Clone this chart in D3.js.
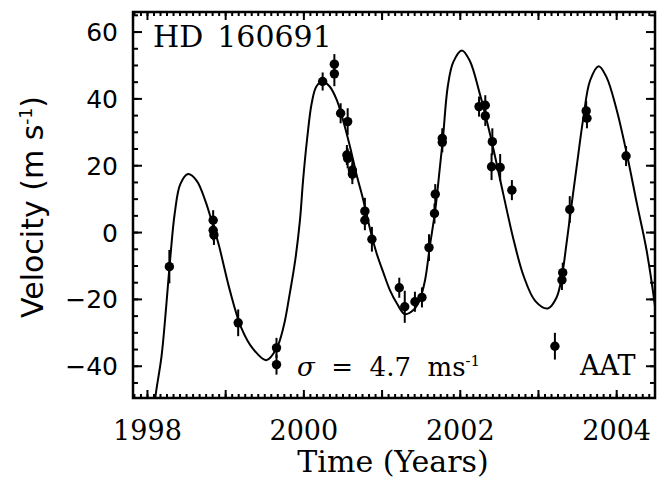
<!DOCTYPE html>
<html lang="en">
<head>
<meta charset="UTF-8">
<title>HD 160691</title>
<script src="https://d3js.org/d3.v7.min.js"></script>
<style>
  body { margin: 0; background: #fff; }
  text { fill: #000; }
</style>
</head>
<body>
<script>
// observed velocities (year, m/s, error)
var obsTime = [1998.28, 1998.84, 1998.84, 1998.85, 1999.16, 1999.65, 1999.65,
  2000.24, 2000.39, 2000.39, 2000.47, 2000.56, 2000.55, 2000.56, 2000.62, 2000.62,
  2000.78, 2000.78, 2000.87, 2001.22, 2001.29, 2001.42, 2001.51, 2001.60, 2001.67,
  2001.68, 2001.77, 2001.77, 2002.24, 2002.32, 2002.32, 2002.41, 2002.40, 2002.51,
  2002.66, 2003.21, 2003.31, 2003.30, 2003.40, 2003.61, 2003.62, 2004.12];
var obsVel = [-10.2, 3.7, 0.7, -0.7, -27.0, -34.5, -39.5,
  45.2, 50.4, 47.5, 35.7, 33.2, 23.2, 22.2, 18.7, 17.5,
  6.4, 3.7, -2.0, -16.5, -22.2, -20.7, -19.4, -4.5, 5.7,
  11.5, 28.2, 27.0, 37.7, 38.1, 34.9, 27.2, 19.7, 19.5,
  12.7, -34.0, -12.0, -14.2, 6.9, 36.4, 34.2, 22.9];
var obsErr = [5, 3, 3, 3, 4, 3, 3,
  2.7, 3, 3.7, 3, 4, 3, 3, 3, 3,
  4, 3, 3.7, 3, 4.8, 3, 3, 4, 3,
  3, 3, 3, 3, 3, 3, 4, 4, 4,
  3, 4, 3, 3, 4, 3, 3, 3];

// fitted orbit curve
var fitTime = [1998.08, 1998.10, 1998.18, 1998.24, 1998.29, 1998.35, 1998.42, 1998.52,
  1998.63, 1998.74, 1998.84, 1998.91, 1999.05, 1999.20, 1999.35, 1999.52, 1999.65,
  1999.74, 1999.82, 1999.89, 1999.95, 1999.99, 2000.04, 2000.10, 2000.16, 2000.24,
  2000.33, 2000.42, 2000.50, 2000.59, 2000.67, 2000.76, 2000.85, 2000.93, 2001.02,
  2001.10, 2001.19, 2001.29, 2001.40, 2001.48, 2001.55, 2001.61, 2001.68, 2001.74,
  2001.78, 2001.84, 2001.91, 2002.02, 2002.12, 2002.25, 2002.38, 2002.55, 2002.68,
  2002.81, 2002.96, 2003.12, 2003.23, 2003.30, 2003.36, 2003.43, 2003.49, 2003.57,
  2003.66, 2003.77, 2003.87, 2004.00, 2004.13, 2004.26, 2004.38, 2004.49, 2004.52];
var fitVel = [-56, -49.5, -37, -22, -8, 6, 14.5, 17.5,
  15.5, 9.5, 2, -3.5, -17, -28.5, -34.8, -38.2, -34.7,
  -28.2, -18.2, -8.2, 3.7, 15.7, 27.7, 38.7, 43.7, 45.2,
  43.7, 39.7, 33.7, 25.7, 17.7, 9.7, 0.7, -6.2, -12.2,
  -17.2, -21.2, -24.4, -23.2, -20.2, -14.2, -4.2, 6.7, 19.7,
  28.7, 43.7, 51, 54.5, 51.5, 41.5, 29.5, 11.5, -2,
  -13, -20.5, -22.7, -19.5, -13, -3, 9.5, 20, 33.7,
  45.5, 49.8, 46.5, 36.7, 23.5, 8.5, -5, -22, -28];

var xTickLabels = [1998, 2000, 2002, 2004];
var yTickLabels = [-40, -20, 0, 20, 40, 60];

var W = 668, H = 481;
var m = {left: 133, right: 13, top: 12, bottom: 83};
var iw = W - m.left - m.right, ih = H - m.top - m.bottom;

var x = d3.scaleLinear().domain([1997.815, 2004.49]).range([0, iw]);
var y = d3.scaleLinear().domain([-49.5, 66]).range([ih, 0]);

var svg = d3.select("body").append("svg")
    .attr("width", W).attr("height", H);

svg.append("defs").append("clipPath").attr("id", "clip")
  .append("rect").attr("width", iw).attr("height", ih);

var g = svg.append("g").attr("transform", "translate(" + m.left + "," + m.top + ")");

// fit curve
var line = d3.line()
    .x(function(d, i) { return x(fitTime[i]); })
    .y(function(d, i) { return y(fitVel[i]); })
    .curve(d3.curveCatmullRom.alpha(0.5));

g.append("path")
    .datum(fitVel)
    .attr("clip-path", "url(#clip)")
    .attr("d", line)
    .attr("fill", "none")
    .attr("stroke", "#000")
    .attr("stroke-width", 2);

// error bars + points
var pts = g.append("g").attr("clip-path", "url(#clip)");
pts.selectAll("line.err")
  .data(obsVel)
  .enter().append("line")
    .attr("class", "err")
    .attr("x1", function(d, i) { return x(obsTime[i]); })
    .attr("x2", function(d, i) { return x(obsTime[i]); })
    .attr("y1", function(d, i) { return y(d + obsErr[i]); })
    .attr("y2", function(d, i) { return y(d - obsErr[i]); })
    .attr("stroke", "#000")
    .attr("stroke-width", 2);

pts.selectAll("circle")
  .data(obsVel)
  .enter().append("circle")
    .attr("cx", function(d, i) { return x(obsTime[i]); })
    .attr("cy", function(d) { return y(d); })
    .attr("r", 4.7)
    .attr("fill", "#000");

// axes: ticks point inward, mirrored on all four sides
var yrMajor = d3.range(1998, 2005);
var yrMinor = d3.range(1998 - 2 / 12, 2004.5, 1 / 12).filter(function(t) {
  return t >= 1997.815 && t <= 2004.49;
});
var vMajor = d3.range(-40, 61, 20);
var vMinor = d3.range(-45, 66, 5);

function drawTicks(sel, vals, len, horiz) {
  vals.forEach(function(v) {
    if (horiz) {
      sel.append("line").attr("x1", x(v)).attr("x2", x(v)).attr("y1", ih).attr("y2", ih - len);
      sel.append("line").attr("x1", x(v)).attr("x2", x(v)).attr("y1", 0).attr("y2", len);
    } else {
      sel.append("line").attr("y1", y(v)).attr("y2", y(v)).attr("x1", 0).attr("x2", len);
      sel.append("line").attr("y1", y(v)).attr("y2", y(v)).attr("x1", iw).attr("x2", iw - len);
    }
  });
}

var tk = g.append("g").attr("stroke", "#000").attr("stroke-width", 2);
drawTicks(tk, yrMinor, 4, true);
drawTicks(tk, yrMajor, 8, true);
drawTicks(tk, vMinor, 5, false);
drawTicks(tk, vMajor, 9, false);

g.append("rect")
    .attr("width", iw).attr("height", ih)
    .attr("fill", "none").attr("stroke", "#000").attr("stroke-width", 2.5);

// tick labels
g.selectAll("text.xt")
  .data(xTickLabels)
  .enter().append("text")
    .attr("class", "xt")
    .attr("x", function(d) { return x(d); })
    .attr("y", ih + 42)
    .attr("text-anchor", "middle")
    .style("font-family", "DejaVu Serif")
    .style("font-size", "27px")
    .text(function(d) { return d; });

g.selectAll("text.yt")
  .data(yTickLabels)
  .enter().append("text")
    .attr("class", "yt")
    .attr("x", -15)
    .attr("y", function(d) { return y(d) + 9; })
    .attr("text-anchor", "end")
    .style("font-family", "DejaVu Sans")
    .style("font-size", "25px")
    .text(function(d) { return d < 0 ? "\u2212" + Math.abs(d) : d; });

// axis titles
svg.append("text")
    .attr("x", 393).attr("y", 472)
    .attr("text-anchor", "middle")
    .style("font-family", "DejaVu Serif")
    .style("font-size", "30px")
    .text("Time (Years)");

var yl = svg.append("text")
    .attr("transform", "translate(43,207) rotate(-90)")
    .attr("text-anchor", "middle")
    .style("font-family", "DejaVu Sans")
    .style("font-size", "30px");
yl.append("tspan").text("Velocity (m s");
yl.append("tspan").attr("dy", -11).style("font-size", "17px").text("-1");
yl.append("tspan").attr("dy", 11).text(")");

// annotations
var hd = svg.append("text")
    .attr("x", 153).attr("y", 47)
    .style("font-family", "DejaVu Serif")
    .style("font-size", "30px");
hd.append("tspan").text("HD");
hd.append("tspan").attr("dx", 14).text("160691");

var sg = svg.append("text")
    .attr("x", 297).attr("y", 376)
    .style("font-family", "DejaVu Serif")
    .style("font-size", "26px")
    .style("white-space", "pre");
sg.append("tspan").style("font-style", "italic").text("\u03c3");
sg.append("tspan").text("  =  4.7  ms");
sg.append("tspan").attr("dy", -10).style("font-size", "15px").text("-1");

svg.append("text")
    .attr("x", 580).attr("y", 375)
    .style("font-family", "DejaVu Serif")
    .style("font-size", "27px")
    .text("AAT");
</script>
</body>
</html>
